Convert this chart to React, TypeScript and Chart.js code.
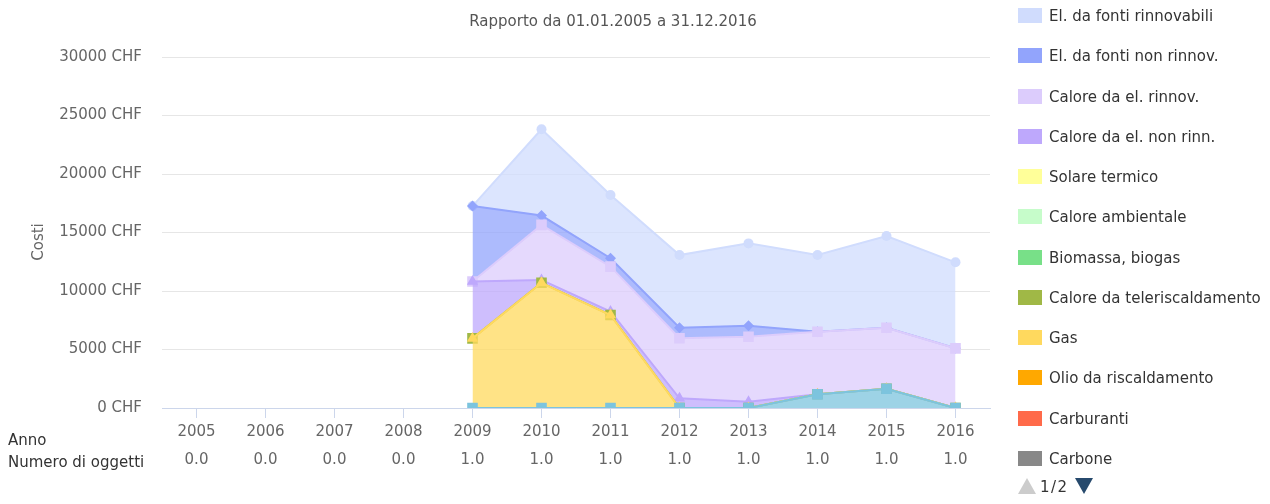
import React, { useEffect, useRef } from 'react';
import { Chart, registerables } from 'chart.js';

Chart.register(...registerables);

const FONT = '"DejaVu Sans", Verdana, sans-serif';

// Categories (x axis): year and number of objects
const years = ['2005', '2006', '2007', '2008', '2009', '2010', '2011', '2012', '2013', '2014', '2015', '2016'];
const objectCounts = ['0.0', '0.0', '0.0', '0.0', '1.0', '1.0', '1.0', '1.0', '1.0', '1.0', '1.0', '1.0'];

// y axis ticks
const yMin = 0;
const yMax = 30000;
const yStep = 5000;
const yUnit = 'CHF';

const titleText = 'Rapporto da 01.01.2005 a 31.12.2016';
const yAxisTitle = 'Costi';
const rowLabels = ['Anno', 'Numero di oggetti'];

// Series values (CHF), in legend order (top of the stack first)
const elRinnovabili = [null, null, null, null, 0, 7370, 5410, 6210, 7040, 6560, 7840, 7350];
const elNonRinnov = [null, null, null, null, 6450, 800, 720, 900, 940, 0, 0, 0];
const caloreElRinnov = [null, null, null, null, 0, 4700, 3830, 5130, 5550, 5350, 5210, 5100];
const caloreElNonRinn = [null, null, null, null, 4860, 250, 300, 830, 540, 0, 0, 0];
const solareTermico = [null, null, null, null, null, null, null, null, null, null, null, null];
const caloreAmbientale = [null, null, null, null, null, null, null, null, null, null, null, null];
const biomassa = [null, null, null, null, null, null, null, null, null, null, null, null];
const teleriscaldamento = [null, null, null, null, 0, 0, 0, 0, 0, 0, 0, 0];
const gas = [null, null, null, null, 5950, 10700, 7950, 0, 0, 0, 0, 0];
const olio = [null, null, null, null, null, null, null, null, null, null, null, null];
const carburanti = [null, null, null, null, null, null, null, null, null, null, null, null];
const carbone = [null, null, null, null, null, null, null, null, null, null, null, null];
const acqua = [null, null, null, null, 0, 0, 0, 0, 0, 1170, 1650, 0];

const seriesNames = [
  'El. da fonti rinnovabili',
  'El. da fonti non rinnov.',
  'Calore da el. rinnov.',
  'Calore da el. non rinn.',
  'Solare termico',
  'Calore ambientale',
  'Biomassa, biogas',
  'Calore da teleriscaldamento',
  'Gas',
  'Olio da riscaldamento',
  'Carburanti',
  'Carbone',
  'Acqua',
];
const seriesValues = [
  elRinnovabili, elNonRinnov, caloreElRinnov, caloreElNonRinn, solareTermico, caloreAmbientale,
  biomassa, teleriscaldamento, gas, olio, carburanti, carbone, acqua,
];

// styles (kept apart from the data)
const seriesColors = [
  '#d0dcfd', '#92a4fc', '#dcccfc', '#bea8fc', '#ffff99', '#c6fcca',
  '#78e088', '#a0b846', '#ffd95e', '#ffa800', '#ff6a4a', '#888888', '#7cc4de',
];
const seriesMarkers = [
  'circle', 'rectRot', 'rect', 'triangle', 'triangle', 'circle',
  'rectRot', 'rect', 'triangle', 'triangle', 'circle', 'rectRot', 'rect',
];
const markerRadius: Record<string, number> = { circle: 5, rectRot: 5.5, rect: 7.5, triangle: 6.5 };
const legendPageSize = 12;
const pageLabel = '1/2';

function withAlpha(hex: string, a: number) {
  const r = parseInt(hex.slice(1, 3), 16);
  const g = parseInt(hex.slice(3, 5), 16);
  const b = parseInt(hex.slice(5, 7), 16);
  return `rgba(${r},${g},${b},${a})`;
}

export default function App() {
  const canvasRef = useRef<HTMLCanvasElement | null>(null);

  useEffect(() => {
    document.body.style.margin = '0';
    const canvas = canvasRef.current;
    if (!canvas) return;
    Chart.defaults.font.family = FONT;

    // Chart.js stacks from dataset 0 upward: bottom series first
    const order = seriesNames.map((_, i) => i).reverse();
    const datasets = order.map((i) => ({
      label: seriesNames[i],
      data: seriesValues[i],
      borderColor: seriesColors[i],
      backgroundColor: withAlpha(seriesColors[i], 0.75),
      borderWidth: 2,
      fill: 'stack' as const,
      tension: 0,
      pointStyle: seriesMarkers[i] as any,
      pointRadius: markerRadius[seriesMarkers[i]],
      pointBackgroundColor: seriesColors[i],
      pointBorderColor: seriesColors[i],
      pointBorderWidth: 0,
      spanGaps: false,
    }));

    const chart = new Chart(canvas, {
      type: 'line',
      data: {
        labels: years.map((y, i) => [y, objectCounts[i]]),
        datasets: datasets as any,
      },
      options: {
        animation: false,
        responsive: false,
        layout: { padding: { top: 57, right: 280, left: 0, bottom: 0 } },
        plugins: {
          legend: { display: false },
          title: { display: false },
          tooltip: { enabled: false },
        },
        scales: {
          x: {
            offset: true,
            grid: {
              offset: false,
              drawOnChartArea: false,
              drawTicks: true,
              tickLength: 10,
              color: '#ccd6eb',
            },
            border: { display: true, color: '#ccd6eb', width: 1 },
            ticks: {
              padding: 0,
              color: '#666666',
              autoSkip: false,
              maxRotation: 0,
              font: { family: FONT, size: 15, lineHeight: 28 / 15 },
            },
            afterFit: (s: any) => {
              s.height = 96;
            },
          },
          y: {
            stacked: true,
            min: yMin,
            max: yMax,
            grid: { color: '#e6e6e6', drawTicks: false },
            border: { display: false },
            ticks: {
              stepSize: yStep,
              padding: 20,
              color: '#666666',
              font: { family: FONT, size: 15 },
              callback: (v: any) => `${v} ${yUnit}`,
            },
            afterFit: (s: any) => {
              s.width = 162;
            },
          },
        },
      },
    });
    return () => chart.destroy();
  }, []);

  const legendItems = seriesNames.slice(0, legendPageSize);

  return (
    <div style={{ position: 'relative', width: 1270, height: 504, fontFamily: FONT, overflow: 'hidden' }}>
      <canvas ref={canvasRef} width={1270} height={504} style={{ position: 'absolute', left: 0, top: 0 }} />
      <div
        style={{
          position: 'absolute', left: 0, top: 12, width: 1226, textAlign: 'center',
          fontSize: 15, lineHeight: '18px', color: '#555555', whiteSpace: 'nowrap',
        }}
      >
        {titleText}
      </div>
      <div
        style={{
          position: 'absolute', left: 8, top: 233, width: 60, height: 18, textAlign: 'center',
          fontSize: 15, lineHeight: '18px', color: '#666666', transform: 'rotate(-90deg)',
        }}
      >
        {yAxisTitle}
      </div>
      {rowLabels.map((t, i) => (
        <div
          key={t}
          style={{
            position: 'absolute', left: 8, top: 431 + i * 22, fontSize: 15, lineHeight: '18px',
            color: '#333333', whiteSpace: 'nowrap',
          }}
        >
          {t}
        </div>
      ))}
      {legendItems.map((name, i) => (
        <React.Fragment key={name}>
          <div
            style={{
              position: 'absolute', left: 1018, top: Math.round(8 + 40.25 * i), width: 24, height: 15,
              background: seriesColors[i],
            }}
          />
          <div
            style={{
              position: 'absolute', left: 1049, top: Math.round(7 + 40.25 * i), fontSize: 15,
              lineHeight: '18px', color: '#333333', whiteSpace: 'nowrap',
            }}
          >
            {name}
          </div>
        </React.Fragment>
      ))}
      <svg style={{ position: 'absolute', left: 1018, top: 478 }} width={18} height={17}>
        <polygon points="0,16 9,0 18,16" fill="#cccccc" />
      </svg>
      <div
        style={{
          position: 'absolute', left: 1040, top: 478, fontSize: 15, lineHeight: '18px',
          color: '#333333', letterSpacing: 1.5,
        }}
      >
        {pageLabel}
      </div>
      <svg style={{ position: 'absolute', left: 1075, top: 478 }} width={18} height={17}>
        <polygon points="0,0 18,0 9,16" fill="#274a6d" />
      </svg>
    </div>
  );
}
